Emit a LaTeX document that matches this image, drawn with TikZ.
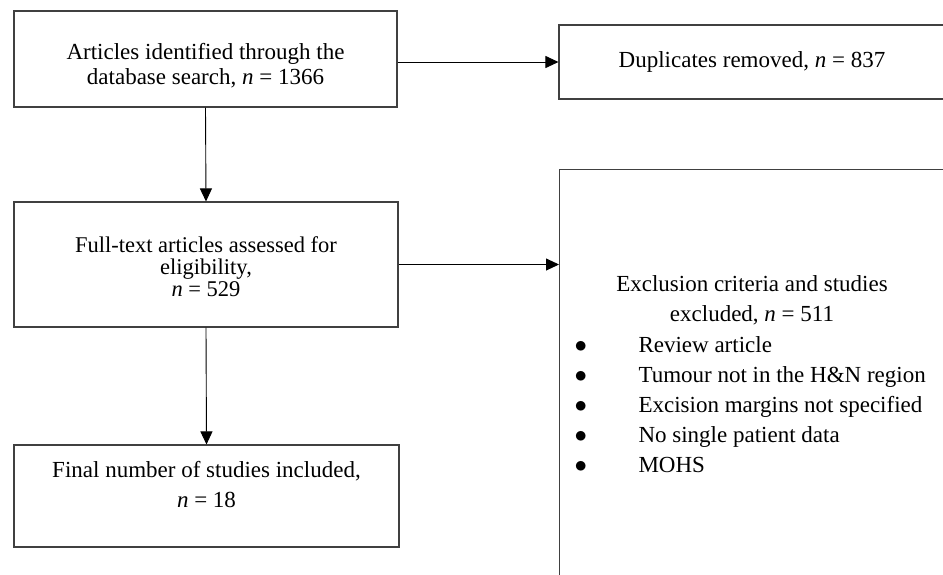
\documentclass[tikz,border=0pt]{standalone}
\usepackage{fontspec}
\setmainfont{Liberation Serif}
\usetikzlibrary{arrows.meta,positioning}

\begin{document}
\begin{tikzpicture}[x=1pt,y=-1pt,
  box/.style={draw=black!75, line width=1.1pt, inner sep=0pt, align=center},
  flow/.style={-{Triangle[length=13pt,width=12pt]}, line width=0.9pt},
  bul/.style={font=\fontsize{23}{30}\selectfont}]
\useasboundingbox (0,0) rectangle (943,574);
% left column
\node[box, minimum width=383, minimum height=96] (ident) at (205.5,59) {};
\node[bul, align=center, font=\fontsize{23}{25}\selectfont] (identtext) at (205.5,66)
  {Articles identified through the\\database search, \textit{n} = 1366};
\node[box, minimum width=384, minimum height=125] (full) at (206,264.5) {};
\node[align=center, font=\fontsize{22.5}{22}\selectfont] (fulltext) at (206,267)
  {Full-text articles assessed for\\eligibility,\\\textit{n} = 529};
\node[box, minimum width=385, minimum height=102] (final) at (206.5,496) {};
\node[bul, align=center] (finaltext) at (206.5,485)
  {Final number of studies included,\\\textit{n} = 18};
% right column
\node[box, minimum width=386, minimum height=74, font=\fontsize{23}{25}\selectfont] (dup) at (752,62)
  {Duplicates removed, \textit{n} = 837};
\node[box, anchor=north west, minimum width=386, minimum height=431] (excl) at (559,169) {};
\node[bul, align=center] (exclhead) at (752,300)
  {Exclusion criteria and studies\\excluded, \textit{n} = 511};
\node[bul, align=left, anchor=west] (excllist) at (571,405)
  {\makebox[64pt][l]{$\bullet$}Review article\\
   \makebox[64pt][l]{$\bullet$}Tumour not in the H\&N region\\
   \makebox[64pt][l]{$\bullet$}Excision margins not specified\\
   \makebox[64pt][l]{$\bullet$}No single patient data\\
   \makebox[64pt][l]{$\bullet$}MOHS};
% arrows
\draw[flow] (ident.east |- dup.west) -- (dup.west);
\draw[flow] (ident.south) -- (full.north);
\draw[flow] (full.east) -- (full.east -| excl.west);
\draw[flow] (full.south) -- (final.north);
\end{tikzpicture}
\end{document}
